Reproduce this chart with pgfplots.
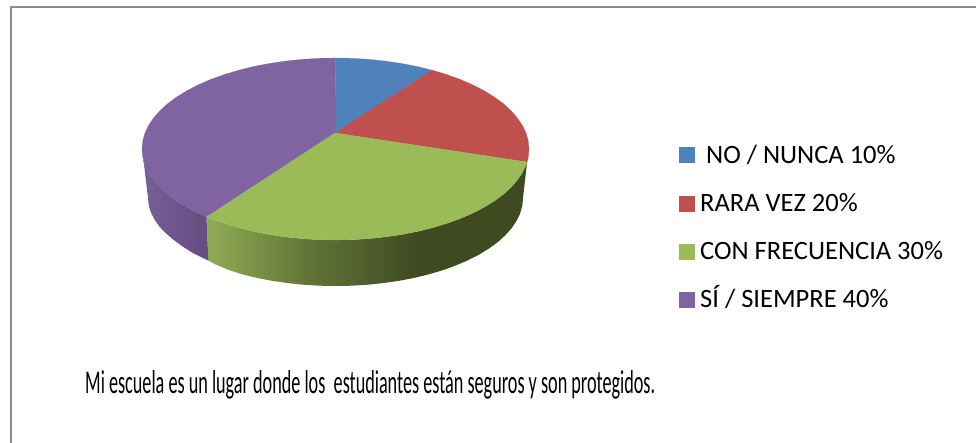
\documentclass[border=0pt]{standalone}
\usepackage{fontspec}
\setmainfont{Carlito}
\usepackage{pgfplots}
\pgfplotsset{compat=1.18}
\definecolor{cblue}{HTML}{4F81BD}
\definecolor{cred}{HTML}{C0504D}
\definecolor{cgreen}{HTML}{9BBB59}
\definecolor{cpurple}{HTML}{8064A2}
\definecolor{gA}{HTML}{8FAC53}
\definecolor{gB}{HTML}{5F7136}
\definecolor{gC}{HTML}{3F4A21}
\definecolor{pA}{HTML}{765E98}
\definecolor{pB}{HTML}{664D80}
\pgfdeclarehorizontalshading{greenside}{100bp}{color(0bp)=(gA);color(25bp)=(gA);color(42bp)=(gB);color(58bp)=(gC);color(100bp)=(gC)}
\pgfdeclarehorizontalshading{purpleside}{100bp}{color(0bp)=(pA);color(25bp)=(pA);color(75bp)=(pB);color(100bp)=(pB)}
\begin{document}
\begin{tikzpicture}
\useasboundingbox (0,0) rectangle (976bp,443bp);
\begin{axis}[at={(0,0)},anchor=south west,scale only axis,width=976bp,height=443bp,
  xmin=0,xmax=976,ymin=0,ymax=443,y dir=reverse,hide axis,clip=true]
% frame
\addplot[mark=none,color=black!45,line width=2bp] coordinates {(10.5,443)(10.5,7)(976,7)};
% side of the green slice
\addplot[mark=none,draw=none,shading=greenside] coordinates {
(527.1,162)(526.1,164.8)(522.4,172.6)(517.3,180.1)(510.9,187.5)(503.1,194.5)(494,201.2)(483.7,207.5)(472.3,213.3)(459.9,218.7)(446.5,223.5)(432.25,227.8)(417.3,231.5)(401.7,234.5)(385.6,236.9)(369.1,238.6)(352.4,239.7)(335.5,240)(318.6,239.7)(301.9,238.6)(285.4,236.9)(269.3,234.5)(253.7,231.5)(238.75,227.8)(224.5,223.5)(211.1,218.7)(206.5,217)
(208.3,260.5)(215,264.2)(227.9,269.6)(241.75,274.2)(256.3,277.8)(271.4,280.7)(287,283)(302.9,284.7)(319.1,285.7)(335.5,286)(351.9,285.7)(368.1,284.7)(384,283)(399.6,280.7)(414.7,277.8)(429.25,274.2)(443.1,270.1)(456,265.4)(468.1,260.2)(479.1,254.6)(489.1,248.5)(497.9,242)(505.4,235.2)(511.7,228.1)(516.6,220.8)(520.2,213.3)(522.3,205.7)(523,198)} --cycle;
% side of the purple slice
\addplot[mark=none,draw=none,shading=purpleside] coordinates {
(206.5,217)(198.7,213.3)(187.3,207.5)(177,201.2)(167.9,194.5)(160.1,187.5)(153.7,180.1)(148.6,172.6)(144.9,164.8)(143.5,160)
(148,198)(148.7,205.2)(150.8,212.3)(154.4,219.5)(159.3,226.5)(165.6,233)(173.1,239.5)(181.9,246)(191.9,252.5)(202.9,258)(208.3,260.5)} --cycle;
% top faces
\addplot[mark=none,fill=cblue,draw=cblue,line width=0.2bp] coordinates {
(335,133)(335.5,58)(352.4,58.3)(369.1,59.4)(385.6,61.1)(401.7,63.5)(417.3,66.5)(432.25,70.2)} --cycle;
\addplot[mark=none,fill=cred,draw=cred,line width=0.2bp] coordinates {
(335,133)(432.25,70.2)(446.5,74.5)(459.9,79.3)(472.3,84.7)(483.7,90.5)(494,96.8)(503.1,103.5)(510.9,110.5)(517.3,117.9)(522.4,125.4)(526.1,133.2)(528.3,141.1)(529,149)(528.3,156.9)(527.1,162)} --cycle;
\addplot[mark=none,fill=cpurple,draw=cpurple,line width=0.2bp] coordinates {
(335,133)(206.5,217)(198.7,213.3)(187.3,207.5)(177,201.2)(167.9,194.5)(160.1,187.5)(153.7,180.1)(148.6,172.6)(144.9,164.8)(142.7,156.9)(142,149)(142.7,141.1)(144.9,133.2)(148.6,125.4)(153.7,117.9)(160.1,110.5)(167.9,103.5)(177,96.8)(187.3,90.5)(198.7,84.7)(211.1,79.3)(224.5,74.5)(238.75,70.2)(253.7,66.5)(269.3,63.5)(285.4,61.1)(301.9,59.4)(318.6,58.3)(335.5,58)} --cycle;
\addplot[mark=none,fill=cgreen,draw=cgreen,line width=0.2bp] coordinates {
(335,133)(527.1,162)(526.1,164.8)(522.4,172.6)(517.3,180.1)(510.9,187.5)(503.1,194.5)(494,201.2)(483.7,207.5)(472.3,213.3)(459.9,218.7)(446.5,223.5)(432.25,227.8)(417.3,231.5)(401.7,234.5)(385.6,236.9)(369.1,238.6)(352.4,239.7)(335.5,240)(318.6,239.7)(301.9,238.6)(285.4,236.9)(269.3,234.5)(253.7,231.5)(238.75,227.8)(224.5,223.5)(211.1,218.7)(206.5,217)} --cycle;
% legend keys
\addplot[only marks,color=cblue,mark=square*,mark size=7.5bp,mark options={fill=cblue,draw=cblue,line width=0pt}] coordinates {(686.5,154.5)};
\addplot[only marks,color=cred,mark=square*,mark size=7.5bp,mark options={fill=cred,draw=cred,line width=0pt}] coordinates {(686.5,203.5)};
\addplot[only marks,color=cgreen,mark=square*,mark size=7.5bp,mark options={fill=cgreen,draw=cgreen,line width=0pt}] coordinates {(686.5,251.5)};
\addplot[only marks,color=cpurple,mark=square*,mark size=7.5bp,mark options={fill=cpurple,draw=cpurple,line width=0pt}] coordinates {(686.5,299.5)};
\node[anchor=base west,inner sep=0pt,font=\fontsize{26.6}{30}\selectfont] at (axis cs:706,163) {NO / NUNCA 10\%};
\node[anchor=base west,inner sep=0pt,font=\fontsize{26.6}{30}\selectfont] at (axis cs:700,211) {RARA VEZ 20\%};
\node[anchor=base west,inner sep=0pt,font=\fontsize{26.6}{30}\selectfont] at (axis cs:700,259) {CON FRECUENCIA 30\%};
\node[anchor=base west,inner sep=0pt,font=\fontsize{26.6}{30}\selectfont] at (axis cs:700,307) {SÍ / SIEMPRE 40\%};
\node[anchor=base west,inner sep=0pt] at (axis cs:85,393) {\resizebox{570bp}{23bp}{Mi escuela es un lugar donde los\ \ estudiantes están seguros y son protegidos.}};
\end{axis}
\end{tikzpicture}
\end{document}
